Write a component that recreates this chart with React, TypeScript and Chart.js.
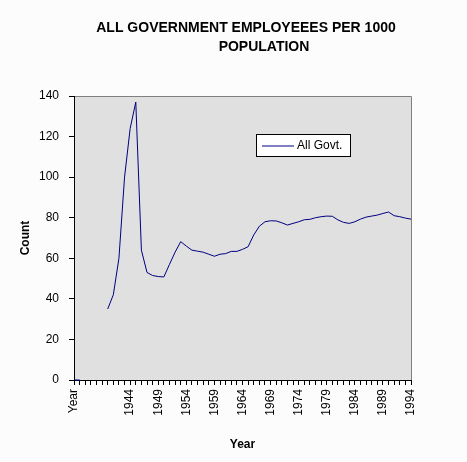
import { useEffect, useRef } from 'react'
import { Chart, registerables } from 'chart.js'
import type { Plugin } from 'chart.js'

Chart.register(...registerables)

const FONT = "'Liberation Sans', Arial, sans-serif"

// categories as they sit in the sheet: the header cell first, then the years
const years = [
  'Year',
  '1935', '1936', '1937', '1938', '1939', '1940', '1941', '1942', '1943', '1944',
  '1945', '1946', '1947', '1948', '1949', '1950', '1951', '1952', '1953', '1954',
  '1955', '1956', '1957', '1958', '1959', '1960', '1961', '1962', '1963', '1964',
  '1965', '1966', '1967', '1968', '1969', '1970', '1971', '1972', '1973', '1974',
  '1975', '1976', '1977', '1978', '1979', '1980', '1981', '1982', '1983', '1984',
  '1985', '1986', '1987', '1988', '1989', '1990', '1991', '1992', '1993', '1994',
]

const allGovt: (number | null)[] = [
  0,
  0, null, null, null, null, 35, 42, 60, 100, 124,
  137, 64, 53, 51.5, 51, 50.8, 57, 63, 68.2, 66,
  64, 63.5, 63, 62, 61, 62, 62.3, 63.4, 63.4, 64.4,
  65.7, 71.5, 75.8, 78, 78.5, 78.4, 77.5, 76.4, 77.2, 78,
  79, 79.2, 80, 80.5, 80.8, 80.7, 78.9, 77.7, 77.2, 78,
  79.3, 80.3, 80.8, 81.3, 82.1, 82.8, 81, 80.5, 79.8, 79.3,
]

// the years the axis prints
const shownYears = ['Year', '1944', '1949', '1954', '1959', '1964', '1969', '1974', '1979', '1984', '1989', '1994']

const titleLines = ['ALL GOVERNMENT EMPLOYEEES PER 1000', 'POPULATION']
const seriesName = 'All Govt.'

const frame: Plugin<'line'> = {
  id: 'frame',
  beforeDraw(chart) {
    const { ctx, chartArea: a } = chart
    ctx.save()
    ctx.fillStyle = '#fcfcfc'
    ctx.fillRect(0, 0, chart.width, chart.height)
    ctx.fillStyle = '#e0e0e0'
    ctx.fillRect(a.left, a.top, a.right - a.left, a.bottom - a.top)
    ctx.strokeStyle = '#808080'
    ctx.lineWidth = 1
    ctx.beginPath()
    ctx.moveTo(a.left, a.top + 0.5)
    ctx.lineTo(a.right + 0.5, a.top + 0.5)
    ctx.lineTo(a.right + 0.5, a.bottom)
    ctx.stroke()
    ctx.restore()
  },
  afterDraw(chart) {
    const { ctx } = chart
    ctx.save()
    // title
    ctx.fillStyle = '#000'
    ctx.font = `bold 14px ${FONT}`
    ctx.textAlign = 'center'
    ctx.textBaseline = 'middle'
    ctx.fillText(titleLines[0], 246, 28)
    ctx.fillText(titleLines[1], 264, 47)
    // legend box
    ctx.fillStyle = '#fff'
    ctx.fillRect(256, 134, 94, 22)
    ctx.strokeStyle = '#000'
    ctx.lineWidth = 1
    ctx.strokeRect(256.5, 134.5, 94, 22)
    ctx.strokeStyle = '#000080'
    ctx.beginPath()
    ctx.moveTo(262, 146)
    ctx.lineTo(294, 146)
    ctx.stroke()
    ctx.fillStyle = '#000'
    ctx.font = `12px ${FONT}`
    ctx.textAlign = 'left'
    ctx.fillText(seriesName, 297, 146)
    ctx.restore()
  },
}

export default function App() {
  const canvasRef = useRef<HTMLCanvasElement>(null)

  useEffect(() => {
    const canvas = canvasRef.current
    if (!canvas) return
    const chart = new Chart(canvas, {
      type: 'line',
      data: {
        labels: years,
        datasets: [{
          label: seriesName,
          data: allGovt,
          borderColor: '#000080',
          borderWidth: 1,
          pointRadius: 0,
          tension: 0,
          spanGaps: false,
          clip: false,
        }],
      },
      options: {
        responsive: false,
        animation: false,
        layout: { padding: { top: 96, right: 56, left: 0, bottom: 0 } },
        scales: {
          x: {
            offset: false,
            afterFit: (s) => { s.height = 82 },
            border: { color: '#000', width: 1 },
            grid: { drawOnChartArea: false, drawTicks: true, tickLength: 5, color: '#000' },
            ticks: {
              autoSkip: false,
              maxRotation: 90,
              minRotation: 90,
              padding: 4,
              color: '#000',
              font: { family: FONT, size: 12 },
              callback: (_v, i) => (shownYears.includes(years[i]) ? years[i] : ''),
            },
            title: {
              display: true,
              text: 'Year',
              color: '#000',
              font: { family: FONT, size: 12, weight: 'bold' },
              padding: { top: 0, bottom: 10 },
            },
          },
          y: {
            min: 0,
            max: 140,
            afterFit: (s) => { s.width = 74 },
            border: { color: '#000', width: 1 },
            grid: { drawOnChartArea: false, drawTicks: true, tickLength: 5, color: '#000' },
            ticks: {
              stepSize: 20,
              padding: 10,
              color: '#000',
              font: { family: FONT, size: 12 },
            },
            title: {
              display: true,
              text: 'Count',
              color: '#000',
              font: { family: FONT, size: 12, weight: 'bold' },
              padding: { top: 18, bottom: 0 },
            },
          },
        },
        plugins: {
          legend: { display: false },
          tooltip: { enabled: false },
        },
      },
      plugins: [frame],
    })
    return () => { chart.destroy() }
  }, [])

  return (
    <div style={{ position: 'fixed', left: 0, top: 0, width: 467, height: 462, background: '#fcfcfc' }}>
      <canvas ref={canvasRef} width={467} height={462} />
    </div>
  )
}
